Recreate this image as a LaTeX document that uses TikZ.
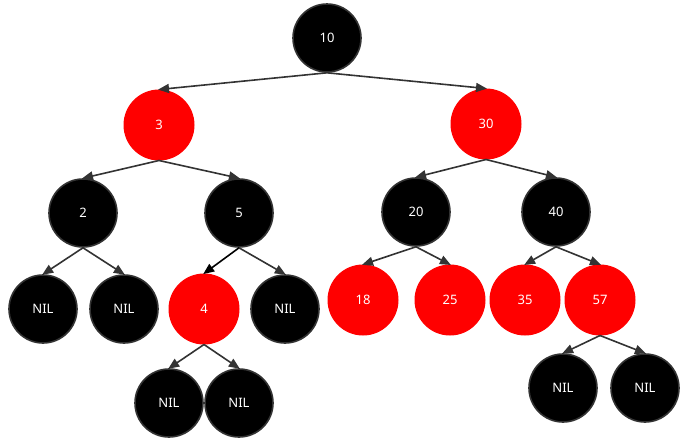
\documentclass[tikz,border=0pt]{standalone}
\usepackage{fontspec}
\setmainfont{Noto Sans}
\usetikzlibrary{arrows.meta}
\definecolor{edgegray}{HTML}{333333}
\tikzset{
  bnode/.style={circle, fill=black, draw=edgegray, line width=1.6pt, minimum size=68pt, inner sep=0pt, text=white, font=\fontsize{13}{15}\selectfont},
  rnode/.style={circle, fill=red, draw=red, line width=1pt, minimum size=70pt, inner sep=0pt, text=white, font=\fontsize{13}{15}\selectfont},
  edge/.style={draw=edgegray, line width=1.6pt, -{Triangle[length=11pt,width=9pt]}, shorten >=-1pt},
  edgeb/.style={draw=black, line width=1.6pt, -{Triangle[length=11pt,width=9pt]}, shorten >=-1pt}
}
\begin{document}
\begin{tikzpicture}[x=1pt,y=-1pt]
\useasboundingbox (0,0) rectangle (685,442);
\node[bnode] (n10) at (327,38) {10};
\node[rnode] (n3) at (159,125) {3};
\node[rnode] (n30) at (486,124) {30};
\node[bnode] (n2) at (83,213) {2};
\node[bnode] (n5) at (239,213) {5};
\node[bnode] (n20) at (416,212) {20};
\node[bnode] (n40) at (556,212) {40};
\node[bnode] (nil1) at (43,309) {NIL};
\node[bnode] (nil2) at (124,309) {NIL};
\node[rnode] (n4) at (204,309) {4};
\node[bnode] (nil3) at (285,309) {NIL};
\node[rnode] (n18) at (363,300) {18};
\node[rnode] (n25) at (450,300) {25};
\node[rnode] (n35) at (525,300) {35};
\node[rnode] (n57) at (600,300) {57};
\node[bnode] (nil4) at (169,403) {NIL};
\node[bnode] (nil5) at (239,403) {NIL};
\node[bnode] (nil6) at (563,388) {NIL};
\node[bnode] (nil7) at (645,388) {NIL};
\draw[edge] (n10.south) -- (n3.north);
\draw[edge] (n10.south) -- (n30.north);
\draw[edge] (n3.south) -- (n2.north);
\draw[edge] (n3.south) -- (n5.north);
\draw[edge] (n30.south) -- (n20.north);
\draw[edge] (n30.south) -- (n40.north);
\draw[edge] (n2.south) -- (nil1.north);
\draw[edge] (n2.south) -- (nil2.north);
\draw[edgeb] (n5.south) -- (n4.north);
\draw[edge] (n5.south) -- (nil3.north);
\draw[edge] (n20.south) -- (n18.north);
\draw[edge] (n20.south) -- (n25.north);
\draw[edge] (n40.south) -- (n35.north);
\draw[edge] (n40.south) -- (n57.north);
\draw[edge] (n4.south) -- (nil4.north);
\draw[edge] (n4.south) -- (nil5.north);
\draw[edge] (n57.south) -- (nil6.north);
\draw[edge] (n57.south) -- (nil7.north);
\end{tikzpicture}
\end{document}
